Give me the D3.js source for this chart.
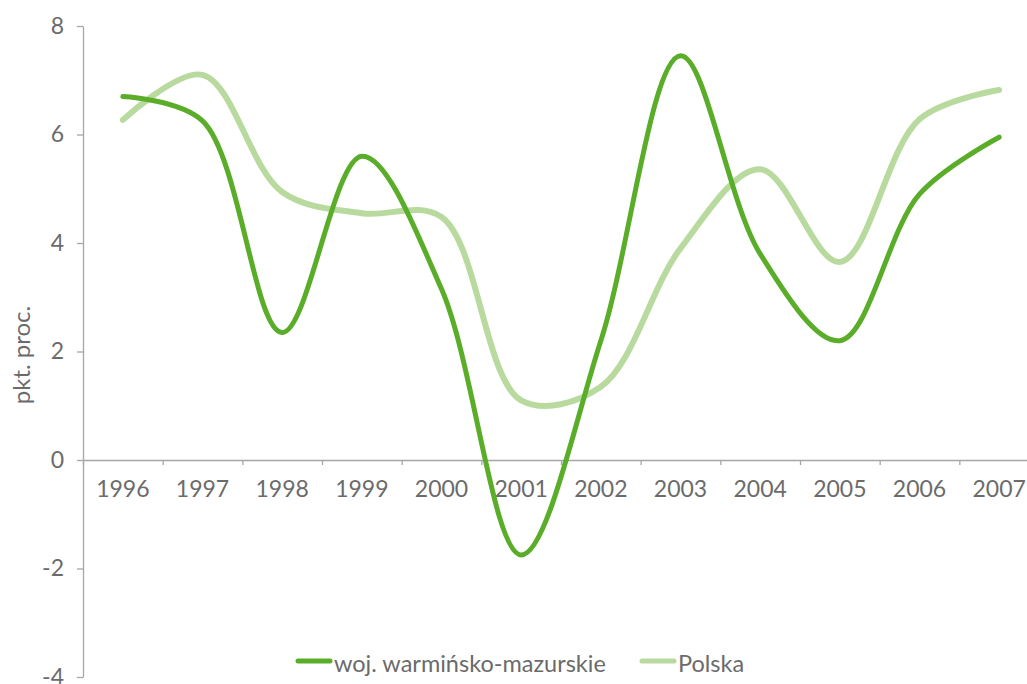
<!DOCTYPE html>
<html>
<head>
<meta charset="utf-8">
<script src="https://cdn.jsdelivr.net/npm/d3@7/dist/d3.min.js"></script>
<style>
  body { margin: 0; background: #fff; }
  text { font-family: Lato, "Open Sans", sans-serif; fill: #6b6b6b; }
</style>
</head>
<body>
<div id="chart"></div>
<script>
// data
var years = ["1996", "1997", "1998", "1999", "2000", "2001", "2002", "2003", "2004", "2005", "2006", "2007"];
var wojValues = [6.7, 6.25, 2.35, 5.6, 3.15, -1.75, 2.2, 7.45, 3.8, 2.2, 4.9, 5.95];
var polskaValues = [6.27, 7.1, 4.94, 4.55, 4.48, 1.1, 1.35, 3.9, 5.36, 3.65, 6.28, 6.82];
var yTicks = [-4, -2, 0, 2, 4, 6, 8];
var seriesNames = ["woj. warmińsko-mazurskie", "Polska"];

var svgWidth = 1027;
var svgHeight = 684;
var plotLeft = 83, plotRight = 1039, plotTop = 26, plotBottom = 677;
var axisColor = "#a6a6a6";
var darkGreen = "#5aad29";
var lightGreen = "#b9da9e";

var svg = d3.select("#chart")
  .append("svg")
  .attr("width", svgWidth)
  .attr("height", svgHeight);

var x = d3.scaleBand().domain(years).range([plotLeft, plotRight]).padding(0);
var xEdge = d3.scaleLinear().domain([0, years.length]).range([plotLeft, plotRight]);
var y = d3.scaleLinear().domain([-4, 8]).range([plotBottom, plotTop]);

// y axis (plain hyphen for negatives, as in the original)
var leftAxis = d3.axisLeft(y)
  .tickValues(yTicks)
  .tickFormat(function(d) { return String(d); })
  .tickSize(6).tickPadding(13).tickSizeOuter(0);
var yG = svg.append("g")
  .attr("transform", "translate(" + plotLeft + ",0)")
  .call(leftAxis);
yG.select(".domain").attr("stroke", axisColor).attr("stroke-width", 1.3);
yG.selectAll(".tick line").attr("stroke", axisColor).attr("stroke-width", 1.3);
yG.selectAll(".tick text")
  .attr("font-size", 23)
  .attr("fill", "#6b6b6b")
  .style("font-family", "Lato, sans-serif");

// x axis: line and ticks at category edges
var edgeAxis = d3.axisBottom(xEdge).ticks(years.length).tickFormat("").tickSize(5).tickSizeOuter(0);
var xG = svg.append("g")
  .attr("transform", "translate(0," + y(0) + ")")
  .call(edgeAxis);
xG.select(".domain").attr("stroke", axisColor).attr("stroke-width", 1.3);
xG.selectAll(".tick line").attr("stroke", axisColor).attr("stroke-width", 1.3);

// x labels at category centres
var labelAxis = d3.axisBottom(x).tickSize(0).tickPadding(21);
var xl = svg.append("g")
  .attr("transform", "translate(0," + y(0) + ")")
  .call(labelAxis);
xl.select(".domain").remove();
xl.selectAll(".tick text")
  .attr("font-size", 23)
  .attr("fill", "#6b6b6b")
  .style("font-family", "Lato, sans-serif");

// y label
svg.append("text")
  .attr("transform", "translate(30,355)rotate(-90)")
  .attr("text-anchor", "middle")
  .attr("font-size", 24)
  .text("pkt. proc.");

// lines
var line = d3.line()
  .x(function(d, i) { return x(years[i]) + x.bandwidth() / 2; })
  .y(function(d) { return y(d); })
  .curve(d3.curveCatmullRom.alpha(0.5));

svg.append("path")
  .datum(polskaValues)
  .attr("fill", "none")
  .attr("stroke", lightGreen)
  .attr("stroke-width", 6)
  .attr("stroke-linecap", "round")
  .attr("d", line);

svg.append("path")
  .datum(wojValues)
  .attr("fill", "none")
  .attr("stroke", darkGreen)
  .attr("stroke-width", 5)
  .attr("stroke-linecap", "round")
  .attr("d", line);

// legend
var legendItems = [
  { name: seriesNames[0], color: darkGreen, x: 298 },
  { name: seriesNames[1], color: lightGreen, x: 642 }
];
var lg = svg.append("g").attr("class", "legend");
legendItems.forEach(function(it) {
  lg.append("line")
    .attr("x1", it.x).attr("x2", it.x + 32)
    .attr("y1", 661).attr("y2", 661)
    .attr("stroke", it.color)
    .attr("stroke-width", 5)
    .attr("stroke-linecap", "round");
  lg.append("text")
    .attr("x", it.x + 36)
    .attr("y", 672)
    .attr("font-size", 23.5)
    .text(it.name);
});
</script>
</body>
</html>
